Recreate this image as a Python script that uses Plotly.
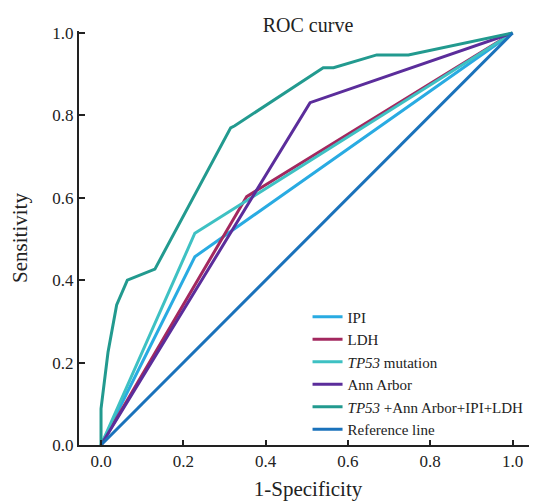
import plotly.graph_objects as go

# ---- data ----
ipi_x = [0.0, 0.228, 1.0]
ipi_y = [0.0, 0.457, 1.0]

ldh_x = [0.0, 0.354, 1.0]
ldh_y = [0.0, 0.603, 1.0]

tp53_x = [0.0, 0.228, 1.0]
tp53_y = [0.0, 0.514, 1.0]

ann_x = [0.0, 0.508, 1.0]
ann_y = [0.0, 0.831, 1.0]

comb_x = [0.0, 0.0, 0.017, 0.038, 0.064, 0.131, 0.315, 0.325, 0.540, 0.565, 0.670, 0.747, 1.0]
comb_y = [0.0, 0.088, 0.225, 0.340, 0.400, 0.427, 0.770, 0.775, 0.916, 0.916, 0.947, 0.947, 1.0]

ref_x = [0.0, 1.0]
ref_y = [0.0, 1.0]

names = ["IPI", "LDH", "<i>TP53</i> mutation", "Ann Arbor",
         "<i>TP53</i> +Ann Arbor+IPI+LDH", "Reference line"]
colors = ["#29abe2", "#a3285f", "#3ec1c3", "#5b2d9b", "#229a8f", "#1a72bb"]
xs = [ipi_x, ldh_x, tp53_x, ann_x, comb_x, ref_x]
ys = [ipi_y, ldh_y, tp53_y, ann_y, comb_y, ref_y]

tick_vals = [0.0, 0.2, 0.4, 0.6, 0.8, 1.0]
tick_text = ["0.0", "0.2", "0.4", "0.6", "0.8", "1.0"]

FONT = "Liberation Serif, Times New Roman, serif"

# page body has an 8px default margin: size the figure to fit the window
W, H = 529, 493

fig = go.Figure()
for x, y, n, c in zip(xs, ys, names, colors):
    fig.add_trace(go.Scatter(x=x, y=y, mode="lines", name=n,
                             line=dict(color=c, width=3)))

fig.update_layout(
    width=W, height=H,
    margin=dict(l=71, r=0, t=23, b=56),
    plot_bgcolor="white", paper_bgcolor="white",
    font=dict(family=FONT, color="#222222", size=17),
    title=dict(text="ROC curve", x=0.5, xref="paper", xanchor="center",
               y=1 - 17 / H, yanchor="middle",
               font=dict(family=FONT, size=20, color="#222222")),
    showlegend=True,
    legend=dict(x=0.499, xanchor="left", y=0.174, yanchor="middle",
                bgcolor="rgba(0,0,0,0)",
                font=dict(family=FONT, size=15, color="#222222")),
)

fig.update_xaxes(range=[-0.0535, 1.0595], showgrid=False, zeroline=False,
                 showline=True, linecolor="#222222", linewidth=2,
                 ticks="inside", ticklen=5, tickwidth=2, tickcolor="#222222",
                 tickvals=tick_vals, ticktext=tick_text,
                 tickfont=dict(family=FONT, size=17),
                 title=dict(text="1-Specificity", standoff=14,
                            font=dict(family=FONT, size=21)))
fig.update_yaxes(range=[0, 1.005], showgrid=False, zeroline=False,
                 showline=True, linecolor="#222222", linewidth=2,
                 ticks="inside", ticklen=6, tickwidth=2, tickcolor="#222222",
                 tickvals=tick_vals, ticktext=tick_text,
                 tickfont=dict(family=FONT, size=17),
                 title=dict(text="Sensitivity", standoff=20,
                            font=dict(family=FONT, size=21)))

fig.write_html("out.html")
